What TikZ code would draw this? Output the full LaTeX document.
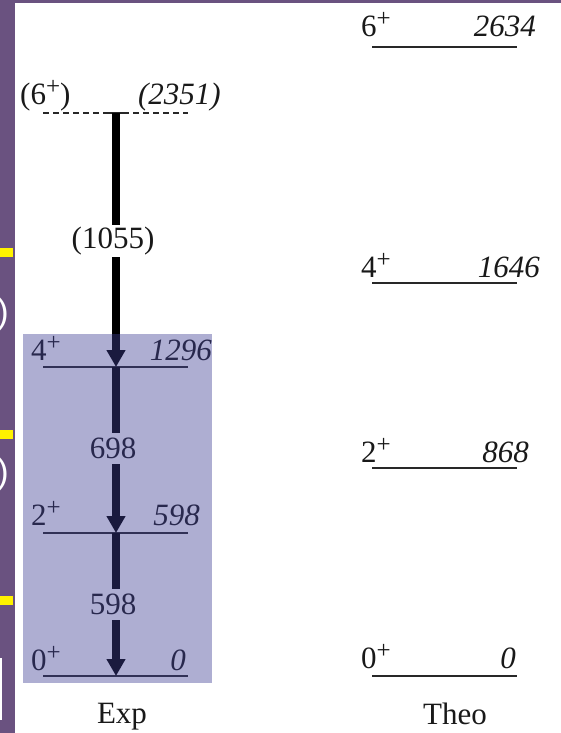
\documentclass[tikz,border=0pt]{standalone}
\usepackage{fontspec}
\setmainfont{Liberation Serif}
\newfontfamily\sansf{Liberation Sans}
\usetikzlibrary{arrows.meta}
\definecolor{stripc}{RGB}{106,82,128}
\definecolor{boxc}{RGB}{62,62,150}
\definecolor{inkc}{RGB}{25,25,25}
\definecolor{linec}{RGB}{40,40,40}
\newcommand\supplus{\raisebox{10pt}{\fontsize{25}{28}\selectfont +}}
\begin{document}
\begin{tikzpicture}[x=1pt,y=-1pt,
  lvl/.style={draw=linec, line width=1.5pt},
  dlvl/.style={draw=linec, line width=1.5pt, dash pattern=on 6pt off 4pt},
  lab/.style={inner sep=0pt, text=inkc, font=\fontsize{31}{36}\selectfont},
  spin/.style={lab, anchor=base west},
  en/.style={lab, anchor=base east, font=\fontsize{31}{36}\selectfont\itshape},
  ttl/.style={lab, anchor=base},
  gam/.style={line width=8pt, draw=black, -{Triangle[width=18pt,length=17pt]}},
  glab/.style={lab, fill=white, inner xsep=1pt, inner ysep=5pt, text height=21pt, text depth=0pt},
  pglab/.style={lab, fill=white, inner xsep=1pt, inner ysep=2.5pt, text height=21pt, text depth=6pt},
  ybar/.style={fill=yellow},
  wparen/.style={anchor=base east, inner sep=0pt, text=white, font=\sansf\fontsize{35}{40}\selectfont},
]
\useasboundingbox (0,0) rectangle (561,733);
\fill[white] (0,0) rectangle (561,733);

% left and top frame strips
\fill[stripc] (0,0) rectangle (15,733);
\fill[stripc] (0,0) rectangle (561,3);
\fill[ybar] (0,248) rectangle (13,257);
\fill[ybar] (0,430) rectangle (13,439);
\fill[ybar] (0,596) rectangle (13,605);
\begin{scope}
  \clip (0,0) rectangle (15,733);
  \node[wparen] (p1) at (9,323) {)};
  \node[wparen] (p2) at (9,483) {)};
\end{scope}
\fill[white] (0,658) rectangle (2,720);

% ---- experimental levels
\coordinate (x6) at (116,113);
\coordinate (x4) at (116,367);
\coordinate (x2) at (116,533);
\coordinate (x0) at (116,676);
\draw[dlvl] (43,113) -- (188,113);
\draw[lvl] (104,113) -- (128,113);
\draw[lvl] (43,367) -- (188,367);
\draw[lvl] (43,533) -- (188,533);
\draw[lvl] (43,676) -- (188,676);

\node[spin] (s6) at (20,105) {(6\supplus)};
\node[en] (e6) at (221,105) {(2351)};
\node[spin] (s4) at (31,360) {4\supplus};
\node[en] (e4) at (212,360) {1296};
\node[spin] (s2) at (31,525) {2\supplus};
\node[en] (e2) at (200,525) {598};
\node[spin] (s0) at (31,670) {0\supplus};
\node[en] (e0) at (186,670) {0};

% gamma transitions
\draw[gam] (x6) -- (x4);
\draw[gam] (x4) -- (x2);
\draw[gam] (x2) -- (x0);
\node[pglab] (g1) at (113,241) {(1055)};
\node[glab] (g2) at (113,448) {698};
\node[glab] (g3) at (113,604) {598};

\node[ttl] (exp) at (122,723) {Exp};

% ---- theoretical levels
\draw[lvl] (372,47) -- (517,47);
\draw[lvl] (372,283) -- (517,283);
\draw[lvl] (372,468) -- (517,468);
\draw[lvl] (372,676) -- (517,676);
\node[spin] (t6) at (361,37) {6\supplus};
\node[en] (te6) at (536,37) {2634};
\node[spin] (t4) at (361,277) {4\supplus};
\node[en] (te4) at (540,277) {1646};
\node[spin] (t2) at (361,462) {2\supplus};
\node[en] (te2) at (529,462) {868};
\node[spin] (t0) at (361,668) {0\supplus};
\node[en] (te0) at (516,668) {0};
\node[ttl] (theo) at (455,724) {Theo};

% translucent highlight box
\fill[boxc, fill opacity=0.42] (23,334) rectangle (212,683);
\end{tikzpicture}
\end{document}
